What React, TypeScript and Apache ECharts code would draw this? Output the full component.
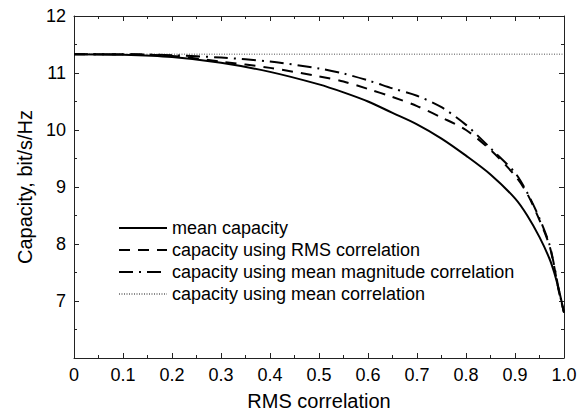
import React, { useEffect, useRef } from "react";
import * as echarts from "echarts";

const rmsCorrelation = [0, 0.1, 0.2, 0.3, 0.4, 0.5, 0.55, 0.6, 0.65, 0.7, 0.75, 0.8, 0.85, 0.9, 0.925, 0.95, 0.97, 0.98, 0.99, 1.0];
const meanCapacity = [11.33, 11.32, 11.28, 11.18, 11.02, 10.8, 10.66, 10.5, 10.3, 10.1, 9.85, 9.55, 9.22, 8.8, 8.5, 8.12, 7.75, 7.5, 7.18, 6.8];
const rmsCapacity = [11.33, 11.33, 11.3, 11.2, 11.09, 10.94, 10.85, 10.72, 10.58, 10.42, 10.22, 10.0, 9.65, 9.2, 8.88, 8.42, 7.98, 7.6, 7.15, 6.8];
const magnitudeCapacity = [11.33, 11.33, 11.31, 11.27, 11.2, 11.08, 10.99, 10.87, 10.73, 10.6, 10.4, 10.09, 9.68, 9.25, 8.9, 8.45, 8.0, 7.62, 7.17, 6.8];
const meanCorrCapacity = [11.33, 11.33, 11.33, 11.33, 11.33, 11.33, 11.33, 11.33, 11.33, 11.33, 11.33, 11.33, 11.33, 11.33, 11.33, 11.33, 11.33, 11.33, 11.33, 11.33];

const seriesNames = [
  "mean capacity",
  "capacity using RMS correlation",
  "capacity using mean magnitude correlation",
  "capacity using mean correlation",
];
const xTitle = "RMS correlation";
const yTitle = "Capacity, bit/s/Hz";

const FONT = "'Liberation Sans', Arial, sans-serif";

function pairs(ys: number[]) {
  return rmsCorrelation.map((x, i) => [x, ys[i]]);
}

export default function App() {
  const ref = useRef<HTMLDivElement>(null);
  useEffect(() => {
    if (!ref.current) return;
    const chart = echarts.init(ref.current, null, { renderer: "svg" });
    const axisCommon = {
      axisLine: { show: true, onZero: false, lineStyle: { color: "#222", width: 1 } },
      axisTick: { show: true, inside: true, length: 5, lineStyle: { color: "#222" } },
      minorTick: { show: true, splitNumber: 2, length: 3, lineStyle: { color: "#222" } },
      splitLine: { show: false },
    };
    chart.setOption({
      animation: false,
      backgroundColor: "#fff",
      textStyle: { fontFamily: FONT },
      grid: { left: 74, right: 19, top: 16, bottom: 59, containLabel: false },
      legend: {
        orient: "vertical",
        left: 113,
        top: 214,
        itemWidth: 48,
        itemHeight: 14,
        itemGap: 4,
        itemStyle: { opacity: 0 },
        textStyle: { fontSize: 18, color: "#000", fontFamily: FONT },
        data: seriesNames.map((n) => ({ name: n })),
        selectedMode: false,
      },
      xAxis: [
        {
          ...axisCommon,
          type: "value",
          min: 0,
          max: 1,
          interval: 0.1,
          position: "bottom",
          name: xTitle,
          nameLocation: "middle",
          nameGap: 33,
          nameTextStyle: { fontSize: 20, color: "#000", fontFamily: FONT },
          axisLabel: {
            margin: 8,
            fontSize: 18,
            color: "#000",
            fontFamily: FONT,
            formatter: (v: number) => (v === 0 ? "0" : v.toFixed(1)),
          },
        },
        {
          ...axisCommon,
          type: "value",
          min: 0,
          max: 1,
          interval: 0.1,
          position: "top",
          axisLabel: { show: false },
        },
      ],
      yAxis: [
        {
          ...axisCommon,
          type: "value",
          min: 6,
          max: 12,
          interval: 1,
          position: "left",
          name: yTitle,
          nameLocation: "middle",
          nameGap: 38,
          nameTextStyle: { fontSize: 20, color: "#000", fontFamily: FONT },
          axisLabel: {
            margin: 8,
            fontSize: 18,
            color: "#000",
            fontFamily: FONT,
            formatter: (v: number) => (v === 6 ? "" : String(v)),
          },
        },
        {
          ...axisCommon,
          type: "value",
          min: 6,
          max: 12,
          interval: 1,
          position: "right",
          axisLabel: { show: false },
        },
      ],
      series: [
        {
          name: seriesNames[3],
          type: "line",
          data: pairs(meanCorrCapacity),
          showSymbol: false,
          symbol: "none",
          lineStyle: { color: "#8a8a8a", width: 1.5, type: [1, 1.5] },
          itemStyle: { color: "#8a8a8a" },
          z: 1,
        },
        {
          name: seriesNames[0],
          type: "line",
          data: pairs(meanCapacity),
          smooth: 0.3,
          showSymbol: false,
          symbol: "none",
          lineStyle: { color: "#000", width: 2, type: "solid" },
          itemStyle: { color: "#000" },
          z: 3,
        },
        {
          name: seriesNames[1],
          type: "line",
          data: pairs(rmsCapacity),
          smooth: 0.3,
          showSymbol: false,
          symbol: "none",
          lineStyle: { color: "#000", width: 2, type: [11, 8] },
          itemStyle: { color: "#000" },
          z: 3,
        },
        {
          name: seriesNames[2],
          type: "line",
          data: pairs(magnitudeCapacity),
          smooth: 0.3,
          showSymbol: false,
          symbol: "none",
          lineStyle: { color: "#000", width: 2, type: [14, 6, 2, 6] },
          itemStyle: { color: "#000" },
          z: 3,
        },
      ],
    });
    return () => chart.dispose();
  }, []);
  return (
    <div
      ref={ref}
      style={{ position: "fixed", left: 0, top: 0, width: 583, height: 417, background: "#fff" }}
    />
  );
}
